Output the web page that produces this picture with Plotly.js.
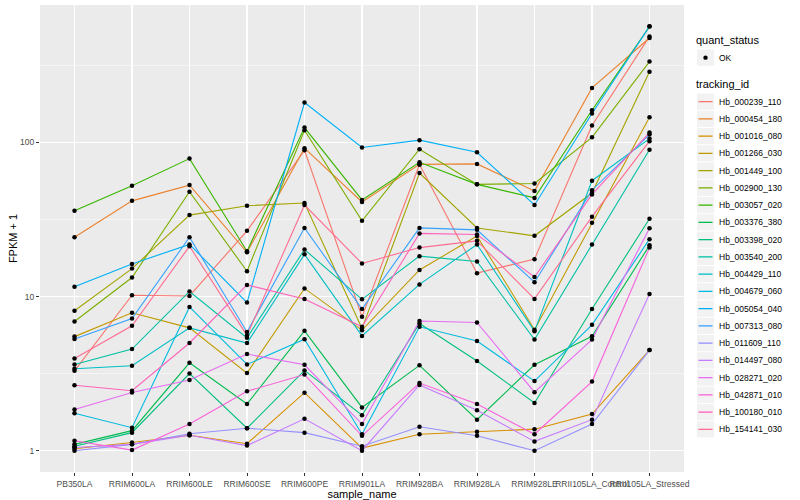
<!DOCTYPE html>
<html>
<head>
<meta charset="utf-8">
<script src="https://cdn.plot.ly/plotly-3.0.1.min.js"></script>
<style>
html,body{margin:0;padding:0;background:#fff;}
#chart{width:800px;height:500px;}
</style>
</head>
<body>
<div id="chart"></div>
<script>
// Sample names (x categories)
var samples = ["PB350LA","RRIM600LA","RRIM600LE","RRIM600SE","RRIM600PE","RRIM901LA",
  "RRIM928BA","RRIM928LA","RRIM928LE","RRII105LA_Control","RRII105LA_Stressed"];

// tracking ids (legend order)
var trackingIds = ["Hb_000239_110","Hb_000454_180","Hb_001016_080","Hb_001266_030","Hb_001449_100",
  "Hb_002900_130","Hb_003057_020","Hb_003376_380","Hb_003398_020","Hb_003540_200",
  "Hb_004429_110","Hb_004679_060","Hb_005054_040","Hb_007313_080","Hb_011609_110",
  "Hb_014497_080","Hb_028271_020","Hb_042871_010","Hb_100180_010","Hb_154141_030"];

// FPKM + 1 values per tracking id
var hb_000239_110 = [3.3, 10.2, 10.1, 26.7, 89.1, 7.4, 72, 14.2, 17.5, 129, 488];
var hb_000454_180 = [24.3, 41.8, 52.9, 19.4, 91.8, 41.1, 72.1, 72.6, 48.5, 226, 476];
var hb_001016_080 = [1.03, 1.13, 1.26, 1.11, 2.38, 1.04, 1.28, 1.33, 1.38, 1.73, 4.5];
var hb_001266_030 = [5.5, 7.86, 6.27, 3.19, 11.3, 6.06, 14.9, 24.7, 6.1, 30.1, 146];
var hb_001449_100 = [8.1, 15.2, 33.8, 38.9, 40.5, 6.2, 63.4, 27.9, 24.8, 47, 288];
var hb_002900_130 = [6.9, 13.3, 47.9, 14.6, 120, 31, 90.4, 53.5, 54.2, 108, 335];
var hb_003057_020 = [36, 52.4, 78.6, 19.7, 125, 42.4, 74.3, 53.5, 43.7, 162, 565];
var hb_003376_380 = [1.1, 1.35, 3.72, 2.01, 6.0, 1.91, 3.58, 1.59, 3.61, 5.53, 21.5];
var hb_003398_020 = [1.07, 1.31, 3.17, 1.40, 3.32, 1.70, 6.69, 3.82, 2.04, 8.31, 32];
var hb_003540_200 = [3.63, 4.57, 10.8, 5.4, 20.2, 9.6, 18.3, 16.9, 5.26, 21.8, 89.6];
var hb_004429_110 = [3.4, 3.56, 6.27, 5.0, 18.8, 5.56, 12.0, 21.8, 5.97, 56.5, 106];
var hb_004679_060 = [1.75, 1.41, 8.57, 3.63, 5.29, 1.28, 6.37, 5.15, 2.83, 6.56, 23.6];
var hb_005054_040 = [11.6, 16.3, 21.8, 9.14, 181.6, 92.7, 103.5, 86.4, 39.3, 154, 567];
var hb_007313_080 = [5.3, 7.21, 24.3, 5.9, 27.9, 8.31, 27.9, 27.1, 12.4, 49, 113];
var hb_011609_110 = [1.0, 1.1, 1.29, 1.40, 1.31, 1.07, 1.43, 1.25, 1.0, 1.49, 4.5];
var hb_014497_080 = [1.05, 1.1, 1.26, 1.08, 1.61, 1.0, 2.67, 1.83, 1.15, 1.59, 10.4];
var hb_028271_020 = [1.85, 2.39, 2.88, 4.24, 3.61, 1.49, 6.94, 6.79, 2.4, 5.26, 27.8];
var hb_042871_010 = [1.16, 1.01, 1.49, 2.43, 3.12, 1.25, 2.75, 2.01, 1.28, 2.81, 20.8];
var hb_100180_010 = [2.66, 2.45, 5.0, 11.9, 9.66, 6.37, 25.7, 25.3, 13.4, 46, 116];
var hb_154141_030 = [3.97, 6.46, 21.2, 5.6, 39.3, 16.4, 20.8, 23, 9.66, 33, 102];

var seriesValues = [hb_000239_110, hb_000454_180, hb_001016_080, hb_001266_030, hb_001449_100,
  hb_002900_130, hb_003057_020, hb_003376_380, hb_003398_020, hb_003540_200,
  hb_004429_110, hb_004679_060, hb_005054_040, hb_007313_080, hb_011609_110,
  hb_014497_080, hb_028271_020, hb_042871_010, hb_100180_010, hb_154141_030];

// ggplot2 default hue palette for 20 levels
var palette = ["#F8766D","#EA8331","#D89000","#C09B00","#A3A500","#7CAE00","#39B600","#00BB4E",
  "#00BF7D","#00C1A3","#00BFC4","#00BAE0","#00B0F6","#35A2FF","#9590FF","#C77CFF",
  "#E76BF3","#FA62DB","#FF62BC","#FF6C91"];

var statusLabels = ["OK"];
var yTickVals = [1, 10, 100];
var yTickText = ["1", "10", "100"];
var yMinorVals = [3.1623, 31.623, 316.23];

var traces = [];
for (var i = 0; i < trackingIds.length; i++) {
  traces.push({
    x: samples, y: seriesValues[i], type: 'scatter', mode: 'lines', name: trackingIds[i],
    line: {color: palette[i], width: 1.1}, showlegend: false
  });
}
for (var j = 0; j < trackingIds.length; j++) {
  traces.push({
    x: samples, y: seriesValues[j], type: 'scatter', mode: 'markers', name: trackingIds[j],
    marker: {color: '#000000', size: 4.5}, showlegend: false
  });
}

// ---- manual ggplot-style legends (paper coordinates from pixel layout) ----
var M = {l: 40, r: 116, t: 5, b: 28};
var W = 800, H = 500;
var pw = W - M.l - M.r, ph = H - M.t - M.b;
function px(x) { return (x - M.l) / pw; }
function py(y) { return (H - M.b - y) / ph; }

var shapes = [], annotations = [];
var legX = 695, keyX0 = 697, keyX1 = 714, textX = 718;
var keyH = 17.25;
function addTitle(txt, yc) {
  annotations.push({xref: 'paper', yref: 'paper', x: px(legX), y: py(yc), xanchor: 'left', yanchor: 'middle',
    text: txt, showarrow: false, borderpad: 0, font: {size: 11, color: '#000000'}});
}
function addLabel(txt, yc) {
  annotations.push({xref: 'paper', yref: 'paper', x: px(textX), y: py(yc), xanchor: 'left', yanchor: 'middle',
    text: txt, showarrow: false, borderpad: 0, font: {size: 8.5, color: '#000000'}});
}
function addKeyBox(yTop) {
  shapes.push({type: 'rect', xref: 'paper', yref: 'paper', x0: px(keyX0), x1: px(keyX1),
    y0: py(yTop + 0.5), y1: py(yTop + keyH - 0.5), fillcolor: '#F2F2F2', line: {width: 0}, layer: 'below'});
}
// quant_status legend
addTitle('quant_status', 40);
var okTop = 49;
addKeyBox(okTop);
var okC = okTop + keyH / 2;
shapes.push({type: 'circle', xref: 'paper', yref: 'paper', x0: px(705.5 - 2.2), x1: px(705.5 + 2.2),
  y0: py(okC + 2.2), y1: py(okC - 2.2), fillcolor: '#000000', line: {width: 0}});
addLabel(statusLabels[0], okC);
// tracking_id legend
addTitle('tracking_id', 84);
var firstKeyTop = 93;
for (var k = 0; k < trackingIds.length; k++) {
  var keyTop = firstKeyTop + keyH * k;
  addKeyBox(keyTop);
  var keyMid = keyTop + keyH / 2;
  shapes.push({type: 'line', xref: 'paper', yref: 'paper', x0: px(keyX0 + 1.5), x1: px(keyX1 - 1.5),
    y0: py(keyMid), y1: py(keyMid), line: {color: palette[k], width: 1.3}});
  addLabel(trackingIds[k], keyMid);
}

var tickFont = {family: 'Liberation Sans, Arial, sans-serif', size: 8.5, color: '#4D4D4D'};
var layout = {
  width: W, height: H,
  margin: M,
  paper_bgcolor: '#FFFFFF',
  plot_bgcolor: '#EBEBEB',
  font: {family: 'Liberation Sans, Arial, sans-serif', color: '#000000'},
  showlegend: false,
  xaxis: {
    type: 'category', range: [-0.6, 10.6],
    showgrid: true, gridcolor: '#FFFFFF', gridwidth: 1.1,
    zeroline: false, showline: false,
    ticks: 'outside', ticklen: 3, tickcolor: '#333333', tickwidth: 1,
    tickfont: tickFont, tickangle: 0, ticklabelstandoff: 1,
    title: {text: 'sample_name', font: {size: 11, color: '#000000'}, standoff: 3}
  },
  yaxis: {
    type: 'log', range: [-0.138, 2.892],
    tickvals: yTickVals, ticktext: yTickText,
    showgrid: true, gridcolor: '#FFFFFF', gridwidth: 1.1,
    minor: {tickvals: yMinorVals, showgrid: true, gridcolor: '#FFFFFF', gridwidth: 0.5, ticks: ''},
    zeroline: false, showline: false,
    ticks: 'outside', ticklen: 3, tickcolor: '#333333', tickwidth: 1,
    tickfont: tickFont,
    title: {text: 'FPKM + 1', font: {size: 11, color: '#000000'}, standoff: 0}
  },
  shapes: shapes,
  annotations: annotations
};

Plotly.newPlot('chart', traces, layout, {displayModeBar: false, staticPlot: true});
</script>
</body>
</html>
